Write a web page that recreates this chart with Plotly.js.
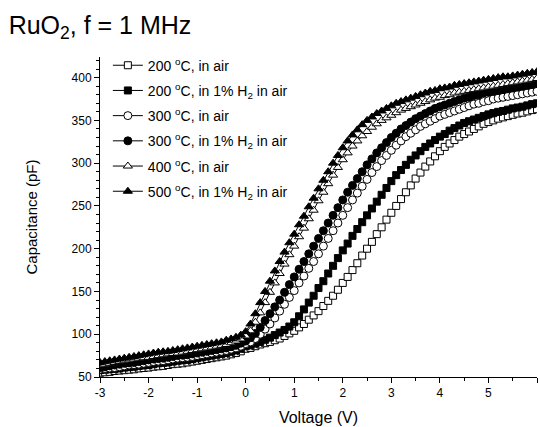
<!DOCTYPE html>
<html>
<head>
<meta charset="utf-8">
<script src="https://cdn.plot.ly/plotly-3.0.1.min.js"></script>
<style>html,body{margin:0;padding:0;background:#fff;}#chart{width:540px;height:427px;}</style>
</head>
<body>
<div id="chart"></div>
<script>
var voltage = [-3.0,-2.9,-2.8,-2.7,-2.6,-2.5,-2.4,-2.3,-2.2,-2.1,-2.0,-1.9,-1.8,-1.7,-1.6,-1.5,-1.4,-1.3,-1.2,-1.1,-1.0,-0.9,-0.8,-0.7,-0.6,-0.5,-0.4,-0.3,-0.2,-0.1,0.0,
0.1,0.2,0.3,0.4,0.5,0.6,0.7,0.8,0.9,1.0,1.1,1.2,1.3,1.4,1.5,1.6,1.7,1.8,1.9,2.0,2.1,2.2,2.3,2.4,2.5,2.6,2.7,2.8,2.9,3.0,
3.1,3.2,3.3,3.4,3.5,3.6,3.7,3.8,3.9,4.0,4.1,4.2,4.3,4.4,4.5,4.6,4.7,4.8,4.9,5.0,5.1,5.2,5.3,5.4,5.5,5.6,5.7,5.8,5.9,6.0];

var c200Air = [55,55.5,56,57,57.5,58,58.5,59,60,60.5,61,62,62.5,63,64,65,65.5,66,67,68,69,70,71,72,73,74,75,76.5,78,80,83,
84,86,88,89.5,91,93,95,98,101,104,108,112,117,122,127,133,139,145,152,160,167,175,183,192,200,208,217,225,234,242,
250,258,266,274,282,289,296,302,308,314,319,323,327,331,334,337,340,343,346,348,350,352,353.5,355,356.5,358,359,360.5,362,363];

var c200H2 = [58,58.5,59,59.5,60,61,61.5,62,63,63.5,64,65,66,66.5,67,68,69,69.5,70,71,72,73,74,75,76,77,78,79.5,81,83,86,
87,89,91,93.5,96,99,102,105,109,114,121,129,137,145,154,162,171,180,189,198,206,215,223,231,239,247,255,263,271,279,
286,292,298,304,309,314,319,323,327,331,334,338,341,344,347,349,351,353,355,357,358.5,360,361,362.5,364,365,366,367.5,369,370];

var c300Air = [59,60,60.5,61,62,63,64,64.5,65,66,67,68,68.5,69,70,71,72,72.5,73,74,75,76,77,78,79,80,81,82.5,84,86,89,
91,95,100,106,112,119,127,135,143,151,160,168,177,185,194,203,212,221,230,239,248,257,265,273,281,289,296,303,309,315,
321,326,331,335,339,343,346,349,352,355,357,359,361,363,365,367,369,370,372,373,375,376,377,378,379,380,381,382,383,384];

var c300H2 = [61,62,63,64,65,66,66.5,67,68,69,70,71,71.5,72,73,74,75,75.5,76,77,78,79,80,81,82,83,84,85.5,87,89.5,92,
96,101,108,116,124,132,140,149,158,167,176,185,194,203,212,221,230,239,248,257,266,274,282,290,298,305,312,318,324,330,
335,340,344,348,352,355,358,361,364,366,368,370,372,374,376,377,379,380,382,383,384,385,386,387,388,389,390,391,392,393];

var c400Air = [64,65,66,67,68,69,70,71,72,72.5,73,74,75,76,77,77.5,78,79,80,81,82,83,84,85,86,87,88,90,92,94.5,98,
104,114,125,137,149,160,171,182,193,203,214,224,235,245,256,266,276,286,295,304,312,320,326,332,337,342,346,350,353,356,
359,362,364,366,368,370,372,374,376,377,379,380,382,383,384,385,386,387,388,389,390,391,392,393,394,395,396,397,398,399];

var c500H2 = [67,68,69,70,71,72,73,74,75,76,77,78,79,79.5,80,81,82,83,84,85,86,87,88,89,90,91,93,94.5,96.5,99,103,
112,124,137,150,162,174,185,196,207,217,228,238,249,259,270,280,290,300,309,318,326,333,339,345,350,354,358,361,364,367,
370,372,374,376,378,380,382,384,385,387,388,389,391,392,393,394,395,396,397,398,399,400,401,401,402,403,404,405,406,407];

var seriesNames = [
  "200 <sup>o</sup>C, in air",
  "200 <sup>o</sup>C, in 1% H<sub>2</sub> in air",
  "300 <sup>o</sup>C, in air",
  "300 <sup>o</sup>C, in 1% H<sub>2</sub> in air",
  "400 <sup>o</sup>C, in air",
  "500 <sup>o</sup>C, in 1% H<sub>2</sub> in air"
];
var xTickVals = [-3,-2,-1,0,1,2,3,4,5,6];
var xTickText = ["-3","-2","-1","0","1","2","3","4","5","6"];
var yTickVals = [50,100,150,200,250,300,350,400];
var yTickText = ["50","100","150","200","250","300","350","400"];

var seriesValues = [c200Air, c200H2, c300Air, c300H2, c400Air, c500H2];
var symbols = ["square","square","circle","circle","triangle-up","triangle-up"];
var fills = ["white","black","white","black","white","black"];
var sizes = [7,7,8,8,8,8];

var traces = seriesValues.map(function(vals, i){
  return {
    x: voltage, y: vals, name: seriesNames[i], legendgroup: "g" + i,
    type: "scatter", mode: "lines+markers",
    line: {color: "black", width: 1},
    marker: {symbol: symbols[i], size: sizes[i], color: fills[i], line: {color: "black", width: 1}}
  };
});

var fam = "Liberation Sans, Arial, sans-serif";
var axisFont = {family: fam, size: 12, color: "black"};
var layout = {
  width: 540, height: 427,
  margin: {l: 100, r: 3, t: 57, b: 50},
  paper_bgcolor: "white", plot_bgcolor: "white",
  font: {family: fam, color: "black"},
  title: {text: "RuO<sub>2</sub>, f = 1 MHz", x: 0.016, xanchor: "left", xref: "container",
          y: 0.962, yanchor: "top", yref: "container",
          font: {family: fam, size: 25, color: "black"}},
  xaxis: {range: [-3, 6], tickmode: "array", tickvals: xTickVals, ticktext: xTickText,
          showline: true, linecolor: "black", linewidth: 1,
          ticks: "outside", ticklen: 5, tickcolor: "black", tickwidth: 1,
          minor: {dtick: 0.5, tick0: 0, ticks: "outside", ticklen: 3, tickcolor: "black", tickwidth: 1},
          showgrid: false, zeroline: false, tickfont: axisFont,
          title: {text: "Voltage (V)", font: {family: fam, size: 16, color: "black"}, standoff: 12}},
  yaxis: {range: [50, 424.1], tickmode: "array", tickvals: yTickVals, ticktext: yTickText,
          showline: true, linecolor: "black", linewidth: 1,
          ticks: "outside", ticklen: 5, tickcolor: "black", tickwidth: 1,
          minor: {dtick: 10, tick0: 0, ticks: "outside", ticklen: 3, tickcolor: "black", tickwidth: 1},
          showgrid: false, zeroline: false, tickfont: axisFont,
          title: {text: "Capacitance (pF)", font: {family: fam, size: 15, color: "black"}, standoff: 30}},
  legend: {x: 0.018, y: 1.023, xanchor: "left", yanchor: "top", bgcolor: "rgba(0,0,0,0)",
           font: {family: fam, size: 14, color: "black"}, tracegroupgap: 4},
  showlegend: true
};
Plotly.newPlot("chart", traces, layout, {displayModeBar: false, staticPlot: true});
</script>
</body>
</html>
